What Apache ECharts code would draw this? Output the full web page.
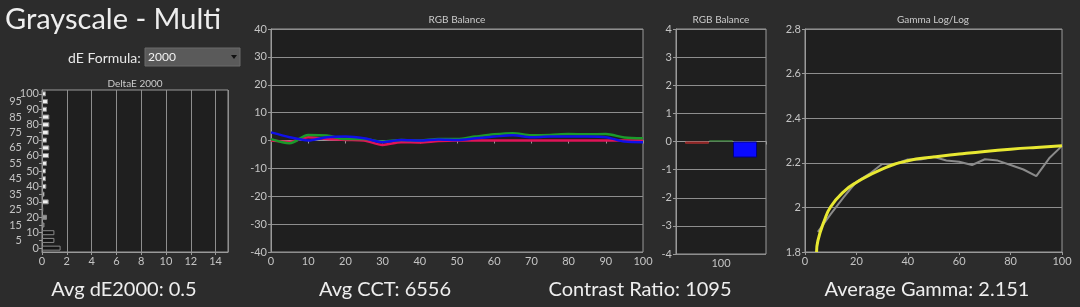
<!DOCTYPE html>
<html>
<head>
<meta charset="utf-8">
<script src="https://cdn.jsdelivr.net/npm/echarts@6/dist/echarts.min.js"></script>
<style>
html,body{margin:0;padding:0;background:#2c2c2c;}
#c{width:1080px;height:307px;}
</style>
</head>
<body>
<div id="c"></div>
<script>
// ---- data ----
const deLevels = ['0','5','10','15','20','25','30','35','40','45','50','55','60','65','70','75','80','85','90','95','100'];
const deValues = [1.5,1.0,1.0,0.2,0.4,0.1,0.54,0.2,0.35,0.32,0.32,0.4,0.56,0.59,0.4,0.54,0.59,0.59,0.4,0.48,0.32];

const rgbX = [0,5,10,15,20,25,30,35,40,45,50,55,60,65,70,75,80,85,90,95,100];
const rgbRed   = [0,-0.5,1.2,0.5,0.2,0,-1.6,-0.6,-0.7,-0.2,0,0,0,0,0,0,0,0,0,0,0];
const rgbGreen = [0.5,-1.0,2.0,1.8,0.5,0.5,-0.4,0.2,0,0.5,0.5,1.4,2.2,2.6,1.9,2.0,2.3,2.2,2.3,1.1,0.8];
const rgbBlue  = [2.9,1.2,0,1.2,1.4,0.8,-0.6,0.2,0,0.4,0.2,0.8,1.4,1.9,1.2,1.4,1.4,1.4,1.2,-0.4,-0.6];

const balCategory = ['100'];
const balRed = [-0.08];
const balGreen = [0.04];
const balBlue = [-0.57];

const gammaX = [5,10,15,20,25,30,35,40,45,50,55,60,65,70,75,80,85,90,95,100];
const gammaMeasured = [1.89,1.97,2.045,2.115,2.15,2.195,2.195,2.215,2.215,2.227,2.21,2.205,2.19,2.216,2.21,2.19,2.17,2.14,2.22,2.276];
const gammaTargetX = [4.5,5,7.5,10,15,20,30,40,50,60,70,80,90,100];
const gammaTarget = [1.8,1.85,1.94,2.003,2.07,2.112,2.172,2.209,2.226,2.239,2.251,2.261,2.269,2.276];

const deXTicks = {min:0,max:15,interval:2};
const rgbYTicks = {min:-40,max:40,interval:10};
const balYTicks = {min:-4,max:4,interval:1};
const gammaYTicks = {min:1.8,max:2.8,interval:0.2};

const texts = {
  title: 'Grayscale - Multi',
  formula: 'dE Formula:',
  formulaValue: '2000',
  deTitle: 'DeltaE 2000',
  rgbTitle: 'RGB Balance',
  gammaTitle: 'Gamma Log/Log',
  avgDE: 'Avg dE2000: 0.5',
  cct: 'Avg CCT: 6556',
  contrast: 'Contrast Ratio: 1095',
  gamma: 'Average Gamma: 2.151'
};

// ---- styles ----
const FONT = 'Lato, "Open Sans", sans-serif';
const LBL = '#c4c4c4';
const LINE = '#9a9a9a';
const PLOT = '#1f1f1f';

function pairs(xs, ys){ return xs.map((x,i)=>[x, ys[i]]); }
function barColor(level){
  const l = Number(level);
  if (l <= 10) return '#151515';
  const g = Math.round(Math.min(240, 60 + (l - 10) * 9));
  return 'rgb(' + g + ',' + g + ',' + g + ')';
}

const axisBase = {
  axisLine:{show:true, lineStyle:{color:LINE, width:1}},
  axisTick:{show:true, length:3, lineStyle:{color:LINE}},
  axisLabel:{color:LBL, fontSize:11, fontFamily:FONT, margin:4},
  splitLine:{show:false}
};

const grids = [
  {left:42, top:90, width:186, height:162},
  {left:271, top:29, width:372, height:223},
  {left:676, top:29, width:90, height:225},
  {left:805, top:29, width:257, height:223}
];
grids.forEach(g=>{ g.show=true; g.backgroundColor=PLOT; g.borderColor=LINE; g.borderWidth=1; });

const option = {
  backgroundColor:'#2c2c2c',
  animation:false,
  textStyle:{fontFamily:FONT},
  grid: grids,
  xAxis: [
    Object.assign({}, axisBase, {gridIndex:0, type:'value', min:deXTicks.min, max:deXTicks.max, interval:deXTicks.interval,
      axisLabel:Object.assign({}, axisBase.axisLabel, {showMaxLabel:false}),
      splitLine:{show:true, lineStyle:{color:'#8e8e8e', width:1}}}),
    Object.assign({}, axisBase, {gridIndex:1, type:'value', min:0, max:100, interval:10}),
    Object.assign({}, axisBase, {gridIndex:2, type:'category', data:balCategory, axisTick:{show:true, length:3, lineStyle:{color:LINE}}}),
    Object.assign({}, axisBase, {gridIndex:3, type:'value', min:0, max:100, interval:20})
  ],
  yAxis: [
    Object.assign({}, axisBase, {gridIndex:0, type:'category', data:deLevels,
      axisLabel:{color:LBL, fontSize:11, fontFamily:FONT, margin:3, interval:0,
        formatter:(v,i)=> (i%2 ? '{o|'+v+'}' : '{e|'+v+'}'),
        rich:{o:{color:LBL, fontSize:11, fontFamily:FONT, padding:[0,17,0,0]}, e:{color:LBL, fontSize:11, fontFamily:FONT}}},
      axisTick:{show:true, length:3, interval:0, alignWithLabel:true, lineStyle:{color:LINE}}}),
    Object.assign({}, axisBase, {gridIndex:1, type:'value', min:rgbYTicks.min, max:rgbYTicks.max, interval:rgbYTicks.interval,
      splitLine:{show:true, lineStyle:{color:'#8e8e8e', width:1}}}),
    Object.assign({}, axisBase, {gridIndex:2, type:'value', min:balYTicks.min, max:balYTicks.max, interval:balYTicks.interval,
      splitLine:{show:true, lineStyle:{color:'#8e8e8e', width:1}}}),
    Object.assign({}, axisBase, {gridIndex:3, type:'value', min:gammaYTicks.min, max:gammaYTicks.max, interval:gammaYTicks.interval,
      axisLabel:Object.assign({}, axisBase.axisLabel, {formatter:v=>String(Math.round(v*10)/10)}),
      splitLine:{show:true, lineStyle:{color:'#8e8e8e', width:1}}})
  ],
  series: [
    {type:'bar', xAxisIndex:0, yAxisIndex:0, barWidth:5,
      data: deValues.map((v,i)=>({value:v, itemStyle:{color:barColor(deLevels[i]), borderColor:'#8a8a8a', borderWidth:1}}))},
    {type:'line', xAxisIndex:1, yAxisIndex:1, data:pairs(rgbX, rgbRed), showSymbol:false, smooth:0.3,
      lineStyle:{color:'#e01458', width:2.5}},
    {type:'line', xAxisIndex:1, yAxisIndex:1, data:pairs(rgbX, rgbGreen), showSymbol:false, smooth:0.3,
      lineStyle:{color:'#1a9a2a', width:2.5}},
    {type:'line', xAxisIndex:1, yAxisIndex:1, data:pairs(rgbX, rgbBlue), showSymbol:false, smooth:0.3,
      lineStyle:{color:'#1010e8', width:2.5}},
    {type:'bar', xAxisIndex:2, yAxisIndex:2, data:balRed, barGap:'0%', barCategoryGap:'20%',
      itemStyle:{color:'#7a1010', borderColor:'#a03030', borderWidth:1}},
    {type:'bar', xAxisIndex:2, yAxisIndex:2, data:balGreen, barGap:'0%', barCategoryGap:'20%',
      itemStyle:{color:'#1e5a1e', borderColor:'#3a7a3a', borderWidth:1}},
    {type:'bar', xAxisIndex:2, yAxisIndex:2, data:balBlue, barGap:'0%', barCategoryGap:'20%',
      itemStyle:{color:'#0a0aff', borderColor:'#000080', borderWidth:1}},
    {type:'line', xAxisIndex:3, yAxisIndex:3, data:pairs(gammaX, gammaMeasured), showSymbol:false,
      lineStyle:{color:'#8a8a8a', width:2}},
    {type:'line', xAxisIndex:3, yAxisIndex:3, data:pairs(gammaTargetX, gammaTarget), showSymbol:false, smooth:true,
      lineStyle:{color:'#e8e832', width:3}}
  ],
  graphic: [
    {type:'text', left:5, top:5, style:{text:texts.title, fill:'#eeeeee', font:'29px '+FONT}},
    {type:'text', left:68, top:51, style:{text:texts.formula, fill:'#e8e8e8', font:'14px '+FONT}},
    {type:'rect', shape:{x:145, y:48, width:95, height:18}, style:{fill:'#5a5a5a', stroke:'#6a6a6a'}},
    {type:'text', left:148, top:51, style:{text:texts.formulaValue, fill:'#f0f0f0', font:'12px '+FONT}},
    {type:'polygon', shape:{points:[[231,55],[237,55],[234,59]]}, style:{fill:'#111'}},
    {type:'text', x:135, y:84, style:{text:texts.deTitle, fill:'#cccccc', font:'10px '+FONT, textAlign:'center', textVerticalAlign:'middle'}},
    {type:'text', x:457, y:20, style:{text:texts.rgbTitle, fill:'#cccccc', font:'10px '+FONT, textAlign:'center', textVerticalAlign:'middle'}},
    {type:'text', x:721, y:20, style:{text:texts.rgbTitle, fill:'#cccccc', font:'10px '+FONT, textAlign:'center', textVerticalAlign:'middle'}},
    {type:'text', x:933, y:20, style:{text:texts.gammaTitle, fill:'#cccccc', font:'10px '+FONT, textAlign:'center', textVerticalAlign:'middle'}},
    {type:'text', x:124, y:290, style:{text:texts.avgDE, fill:'#eeeeee', font:'20px '+FONT, textAlign:'center', textVerticalAlign:'middle'}},
    {type:'text', x:385, y:290, style:{text:texts.cct, fill:'#eeeeee', font:'20px '+FONT, textAlign:'center', textVerticalAlign:'middle'}},
    {type:'text', x:640, y:290, style:{text:texts.contrast, fill:'#eeeeee', font:'20px '+FONT, textAlign:'center', textVerticalAlign:'middle'}},
    {type:'text', x:927, y:290, style:{text:texts.gamma, fill:'#eeeeee', font:'20px '+FONT, textAlign:'center', textVerticalAlign:'middle'}}
  ]
};

const chart = echarts.init(document.getElementById('c'), null, {renderer:'canvas'});
chart.setOption(option);
</script>
</body>
</html>
